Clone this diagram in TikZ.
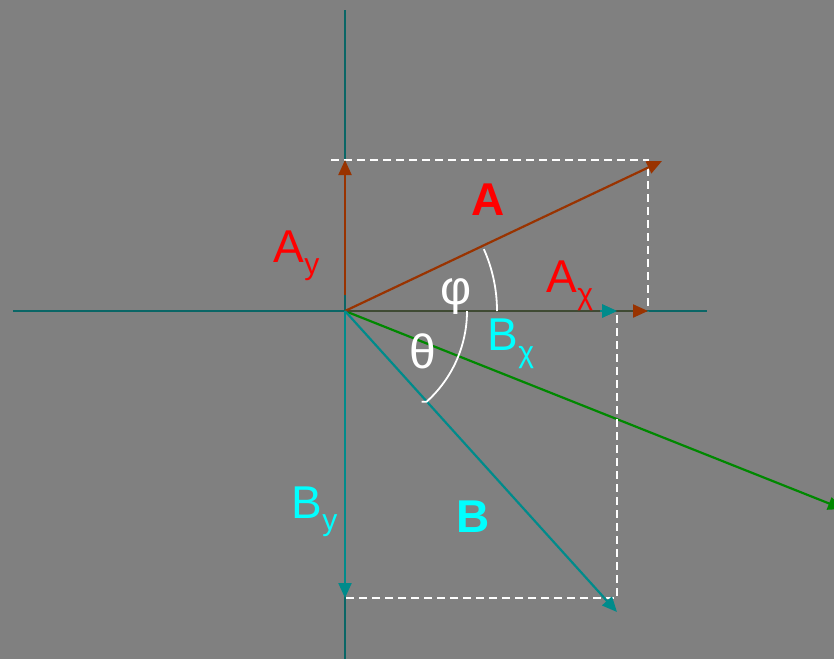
\documentclass[tikz,border=0pt]{standalone}
\usepackage{fontspec}
\setmainfont{Liberation Sans}
\usetikzlibrary{arrows.meta}
\definecolor{bg}{HTML}{808080}
\definecolor{axiscol}{HTML}{0A6666}
\definecolor{brownv}{HTML}{993300}
\definecolor{tealv}{HTML}{008B8B}
\definecolor{greenv}{HTML}{008800}
\definecolor{olive}{HTML}{3F4A33}
\definecolor{cyantext}{HTML}{00FFFF}
\definecolor{redtext}{HTML}{FF0000}
\tikzset{
  axisline/.style={axiscol, line width=2pt},
  vec/.style={line width=2.2pt, -{Triangle[length=15pt,width=13pt]}},
  guide/.style={white, line width=1.8pt, dash pattern=on 8pt off 5pt},
  anglearc/.style={white, line width=1.8pt},
  big/.style={inner sep=0pt, font=\fontsize{46}{46}\selectfont},
  sub/.style={inner sep=0pt, font=\fontsize{30}{30}\selectfont},
  greek/.style={inner sep=0pt, font=\fontsize{48}{48}\selectfont, text=white}
}
\begin{document}
\begin{tikzpicture}[x=1pt,y=-1pt]
\fill[bg] (0,0) rectangle (834,659);
\useasboundingbox (0,0) rectangle (834,659);
\clip (0,0) rectangle (834,659);
% coordinates
\coordinate (O) at (345,311);
\coordinate (xl) at (13,311);
\coordinate (xr) at (707,311);
\coordinate (yt) at (345,10);
\coordinate (yb) at (345,659);
\coordinate (Ay0) at (345,295);
\coordinate (Ayt) at (345,160);
\coordinate (Axt) at (648,311);
\coordinate (At) at (662,161);
\coordinate (Bxt) at (617,311);
\coordinate (Bxh) at (600,311);
\coordinate (Axl) at (633,311);
\coordinate (Byt) at (345,598);
\coordinate (Bt) at (617,612);
\coordinate (Gt) at (843,509);
\coordinate (d1) at (331,160);
\coordinate (d2) at (648,160);
\coordinate (d3) at (617,315);
\coordinate (d4) at (617,598);
% axes
\draw[axisline] (xl) -- (xr);
\draw[axisline] (yt) -- (yb);
% green
\draw[vec, greenv] (O) -- (Gt);
% dashed guides
\draw[guide] (d1) -- (d2) -- (Axt);
\draw[guide] (d3) -- (d4) -- (Byt);
% A components
\draw[vec, brownv] (Ay0) -- (Ayt);
\draw[vec, brownv] (O) -- (Axt);
\draw[vec, tealv] (O) -- (Bxt);
\draw[olive, line width=2.2pt] (O) -- (Axl);
\draw[vec, tealv, shorten <=0pt] (Bxh) -- (Bxt);
\draw[vec, brownv] (O) -- (At);
% B components
\draw[vec, tealv] (O) -- (Byt);
\draw[vec, tealv] (O) -- (Bt);
% angle arcs
\draw[anglearc] (O) ++(152,0) arc[start angle=0, end angle=-24, radius=152];
\draw[anglearc] (O) ++(122,0) arc[start angle=0, end angle=48, radius=122] -- ++(-5,0);
% labels
\node[big, text=redtext, font=\fontsize{46}{46}\selectfont\bfseries] (lA) at (488,200) {A};
\node[big, text=cyantext, font=\fontsize{46}{46}\selectfont\bfseries] (lB) at (473,517) {B};
\node[big, text=redtext, anchor=base west] (lAy) at (273,262) {A};
\node[sub, text=redtext, anchor=base west] (lAys) at (lAy.base east) [yshift=-12pt] {y};
\node[big, text=redtext, anchor=base west] (lAx) at (546,292) {A};
\node[sub, text=redtext, anchor=base west] (lAxs) at (lAx.base east) [yshift=-12pt] {χ};
\node[big, text=cyantext, anchor=base west] (lBx) at (487,350) {B};
\node[sub, text=cyantext, anchor=base west] (lBxs) at (lBx.base east) [yshift=-12pt] {χ};
\node[big, text=cyantext, anchor=base west] (lBy) at (291,518) {B};
\node[sub, text=cyantext, anchor=base west] (lBys) at (lBy.base east) [yshift=-12pt] {y};
\node[greek] (lphi) at (456,297) {φ};
\node[greek] (lth) at (423,351) {θ};
\end{tikzpicture}
\end{document}
